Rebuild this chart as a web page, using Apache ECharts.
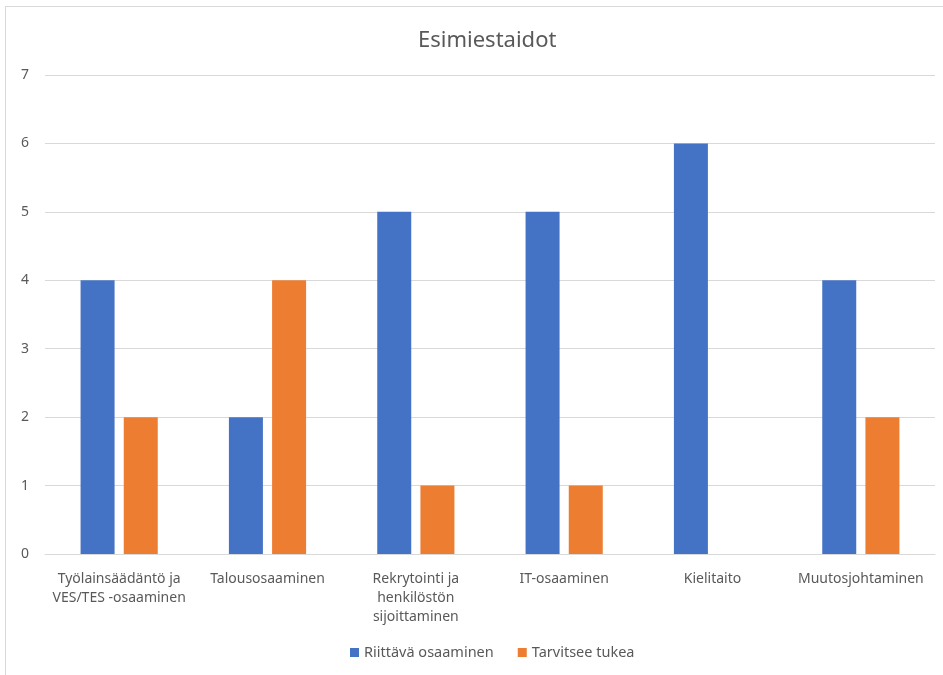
<!DOCTYPE html>
<html>
<head>
<meta charset="utf-8">
<script src="https://cdn.jsdelivr.net/npm/echarts@6/dist/echarts.min.js"></script>
<style>
  html, body { margin: 0; padding: 0; background: #fff; overflow: hidden; }
  #frame {
    position: absolute; left: 5px; top: 6px; width: 950px; height: 680px;
    border: 1px solid #d9d9d9; box-sizing: border-box;
  }
  #chart { position: absolute; left: 0; top: 0; width: 943px; height: 675px; }
</style>
</head>
<body>
<div id="frame"></div>
<div id="chart"></div>
<script>
const categories = [
  "Työlainsäädäntö ja\nVES/TES -osaaminen",
  "Talousosaaminen",
  "Rekrytointi ja\nhenkilöstön\nsijoittaminen",
  "IT-osaaminen",
  "Kielitaito",
  "Muutosjohtaminen"
];
const riittava = [4, 2, 5, 5, 6, 4];
const tarvitsee = [2, 4, 1, 1, 0, 2];

const textColor = "#595959";
const fontFamily = "'Noto Sans', 'Open Sans', sans-serif";

const chart = echarts.init(document.getElementById("chart"));
chart.setOption({
  animation: false,
  backgroundColor: "transparent",
  textStyle: { fontFamily },
  title: {
    text: "Esimiestaidot",
    left: 413,
    top: 25,
    textStyle: { color: textColor, fontSize: 22, fontWeight: "normal", fontFamily }
  },
  legend: {
    bottom: 10,
    left: 345,
    itemWidth: 9,
    itemHeight: 9,
    itemGap: 24,
    icon: "rect",
    textStyle: { color: textColor, fontSize: 14.5, fontFamily },
    data: ["Riittävä osaaminen", "Tarvitsee tukea"]
  },
  grid: { left: 45, right: 8, top: 75, bottom: 121, containLabel: false },
  xAxis: {
    type: "category",
    data: categories,
    axisLine: { lineStyle: { color: "#d9d9d9", width: 1 } },
    axisTick: { show: false },
    axisLabel: {
      color: textColor,
      fontSize: 14,
      lineHeight: 19,
      margin: 16,
      interval: 0,
      fontFamily
    }
  },
  yAxis: {
    type: "value",
    min: 0,
    max: 7,
    interval: 1,
    axisLine: { show: false },
    axisTick: { show: false },
    axisLabel: { color: textColor, fontSize: 14, margin: 16, fontFamily },
    splitLine: { lineStyle: { color: "#d9d9d9", width: 1 } }
  },
  series: [
    {
      name: "Riittävä osaaminen",
      type: "bar",
      data: riittava,
      barWidth: 34,
      barGap: "27%",
      itemStyle: { color: "#4472C4" }
    },
    {
      name: "Tarvitsee tukea",
      type: "bar",
      data: tarvitsee,
      barWidth: 34,
      itemStyle: { color: "#ED7D31" }
    }
  ]
});
</script>
</body>
</html>
